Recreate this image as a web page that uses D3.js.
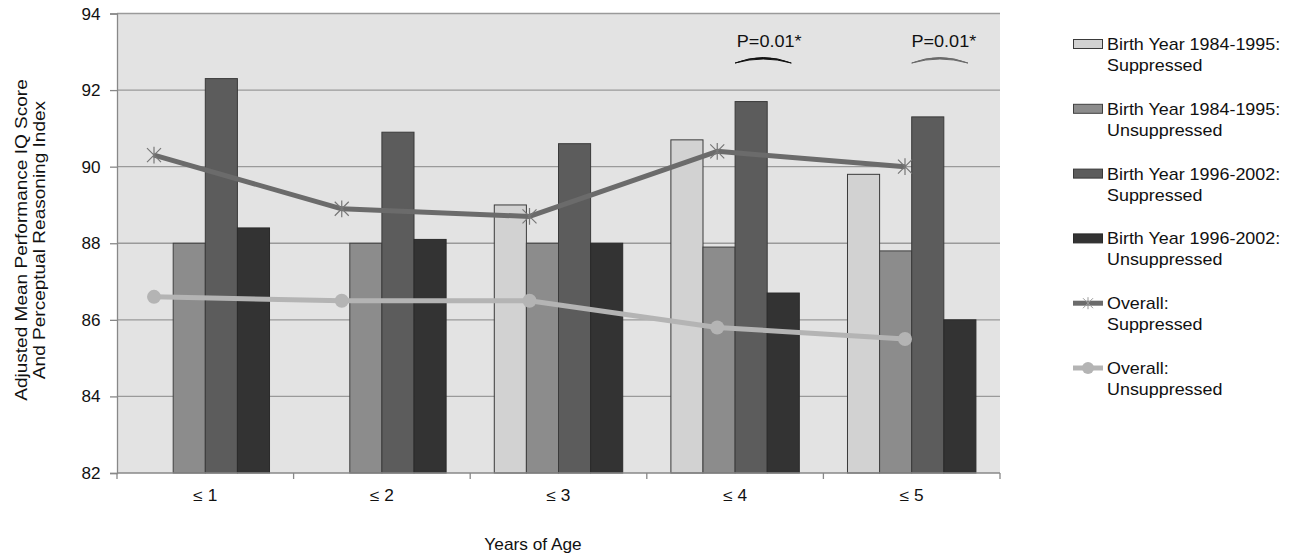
<!DOCTYPE html>
<html><head><meta charset="utf-8">
<script src="https://cdn.jsdelivr.net/npm/d3@7"></script>
<style>body{margin:0;background:#fff;} text{font-family:"Liberation Sans",Arial,sans-serif;}</style>
</head><body>
<svg id="c" width="1304" height="557"></svg>
<script>
const categories = ["≤ 1", "≤ 2", "≤ 3", "≤ 4", "≤ 5"];
const by8495Supp   = [null, null, 89.0, 90.7, 89.8];
const by8495Unsupp = [88.0, 88.0, 88.0, 87.9, 87.8];
const by9602Supp   = [92.3, 90.9, 90.6, 91.7, 91.3];
const by9602Unsupp = [88.4, 88.1, 88.0, 86.7, 86.0];
const overallSupp   = [90.3, 88.9, 88.7, 90.4, 90.0];
const overallUnsupp = [86.6, 86.5, 86.5, 85.8, 85.5];
const yTicks = [82, 84, 86, 88, 90, 92, 94];
const barSeries = [
  {name:["Birth Year 1984-1995:","Suppressed"], values:by8495Supp, fill:"#d2d2d2", stroke:"#3a3a3a"},
  {name:["Birth Year 1984-1995:","Unsuppressed"], values:by8495Unsupp, fill:"#8c8c8c", stroke:"#404040"},
  {name:["Birth Year 1996-2002:","Suppressed"], values:by9602Supp, fill:"#5c5c5c", stroke:"#3a3a3a"},
  {name:["Birth Year 1996-2002:","Unsuppressed"], values:by9602Unsupp, fill:"#333333", stroke:"#2a2a2a"}
];
const lineSeries = [
  {name:["Overall:","Suppressed"], values:overallSupp, color:"#6b6b6b", marker:"star"},
  {name:["Overall:","Unsuppressed"], values:overallUnsupp, color:"#b4b4b4", marker:"circle"}
];
const annotations = [{cat:"≤ 4", text:"P=0.01*", color:"#111", dx:6}, {cat:"≤ 5", text:"P=0.01*", color:"#6a6a6a", dx:4}];

const svg = d3.select("#c");
const L = 117, R = 1000, T = 13.5, B = 473;
const y = d3.scaleLinear().domain([82, 94]).range([B, T]);
const x0 = d3.scaleBand().domain(categories).range([L, R]);
const bw = x0.bandwidth();
const x1 = d3.scaleBand().domain(d3.range(4)).range([bw*0.1364, bw*(1-0.1364)]);
const xl = d3.scalePoint().domain(categories).range([154, 905]);

// text helper: 16px text, stretched along its baseline by k
function txt(parent, x, yy, str, anchor, k, rot) {
  return parent.append("text")
    .attr("transform", `translate(${x},${yy})${rot ? " rotate(" + rot + ")" : ""} scale(${k},1)`)
    .attr("text-anchor", anchor).attr("font-size", 16).attr("fill", "#111").text(str);
}

svg.append("rect").attr("x", L).attr("y", T).attr("width", R-L).attr("height", B-T).attr("fill", "#e3e3e3");
svg.append("g").selectAll("line").data(yTicks.filter(d=>d>82)).join("line")
  .attr("x1", L).attr("x2", R).attr("y1", d=>y(d)).attr("y2", d=>y(d))
  .attr("stroke", "#9a9a9a").attr("stroke-width", 1.3);

barSeries.forEach((s, i) => {
  svg.append("g").selectAll("rect").data(s.values.map((v,j)=>({v, c:categories[j]})).filter(d=>d.v!=null)).join("rect")
    .attr("x", d=>x0(d.c)+x1(i)).attr("width", x1.bandwidth())
    .attr("y", d=>y(d.v)).attr("height", d=>y(82)-y(d.v))
    .attr("fill", s.fill).attr("stroke", s.stroke).attr("stroke-width", 1);
});

// y axis
const yAxis = d3.axisLeft(y).tickValues(yTicks).tickSize(7).tickFormat("");
const gy = svg.append("g").attr("transform", `translate(${L},0)`).call(yAxis);
gy.select(".domain").attr("stroke", "#888").attr("stroke-width", 1.3);
gy.selectAll(".tick line").attr("stroke", "#888").attr("stroke-width", 1.3);
yTicks.forEach(t => txt(svg, 100.5, y(t) + 6, d3.format("d")(t), "end", 1.07));

// x axis
const gx = svg.append("g").attr("transform", `translate(0,${B})`);
gx.append("line").attr("x1", L).attr("x2", R).attr("stroke", "#888").attr("stroke-width", 1.3);
gx.selectAll("line.tk").data(categories.map(c=>x0(c)).concat([R])).join("line").attr("class","tk")
  .attr("x1", d=>d).attr("x2", d=>d).attr("y1", 0).attr("y2", 6).attr("stroke", "#888").attr("stroke-width", 1.3);
categories.forEach(c => txt(svg, x0(c) + bw/2, 501, c, "middle", 1.08));

txt(svg, 533, 550, "Years of Age", "middle", 1.08);
txt(svg, 27, 240, "Adjusted Mean Performance IQ Score", "middle", 1.19, -90);
txt(svg, 45, 240, "And Perceptual Reasoning Index", "middle", 1.19, -90);

function starPath(cx, cy, r) {
  return `M${cx-r},${cy-r}L${cx+r},${cy+r}M${cx-r},${cy+r}L${cx+r},${cy-r}M${cx},${cy-r*1.2}L${cx},${cy+r*1.2}`;
}
lineSeries.forEach(s => {
  const line = d3.line().x((d,j)=>xl(categories[j])).y(d=>y(d));
  svg.append("path").datum(s.values).attr("d", line).attr("fill", "none")
    .attr("stroke", s.color).attr("stroke-width", 5).attr("stroke-linejoin", "round");
  const g = svg.append("g");
  s.values.forEach((v,j) => {
    const cx = xl(categories[j]), cy = y(v);
    if (s.marker === "circle") g.append("circle").attr("cx", cx).attr("cy", cy).attr("r", 7).attr("fill", s.color);
    else g.append("path").attr("d", starPath(cx, cy, 7)).attr("stroke", "#777").attr("stroke-width", 1.2).attr("fill", "none");
  });
});

annotations.forEach(a => {
  const xs = x0(a.cat) + x1(2), xe = x0(a.cat) + x1(3) + x1.bandwidth() - 8;
  const xm = (xs + xe) / 2;
  txt(svg, xm + a.dx, 47, a.text, "middle", 1.13);
  svg.append("path").attr("d", `M${xs},${63} Q${xm},${52} ${xe},${63} Q${xm},${55} ${xs},${63}Z`)
    .attr("fill", a.color).attr("stroke", a.color).attr("stroke-width", 1);
});

const lg = svg.append("g").attr("transform", "translate(1073,0)");
const entries = barSeries.map(s=>({type:"bar", ...s})).concat(lineSeries.map(s=>({type:"line", ...s})));
entries.forEach((e, i) => {
  const yy = 44 + i * 64.8;
  if (e.type === "bar") {
    lg.append("rect").attr("x", 0.5).attr("y", yy-4.5).attr("width", 29).attr("height", 9).attr("fill", e.fill).attr("stroke", e.stroke).attr("stroke-width", 1);
  } else {
    lg.append("line").attr("x1", 0).attr("x2", 30).attr("y1", yy).attr("y2", yy).attr("stroke", e.color).attr("stroke-width", 5);
    if (e.marker === "circle") lg.append("circle").attr("cx", 15).attr("cy", yy).attr("r", 6).attr("fill", e.color);
    else lg.append("path").attr("d", starPath(15, yy, 5)).attr("stroke", "#999").attr("stroke-width", 1).attr("fill", "none");
  }
  txt(lg, 34, yy + 6, e.name[0], "start", 1.12);
  txt(lg, 34, yy + 27, e.name[1], "start", 1.12);
});
</script>
</body></html>
